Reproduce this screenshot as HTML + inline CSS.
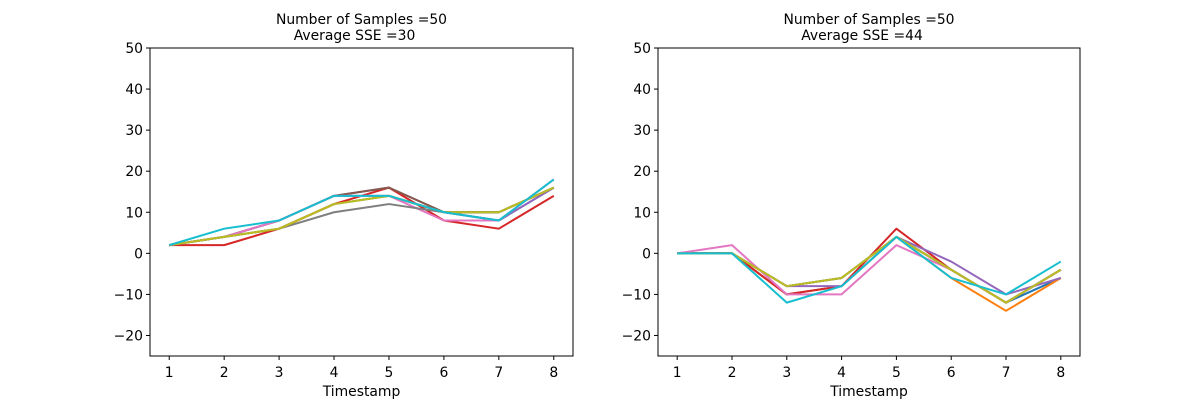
<!DOCTYPE html>
<html><head><meta charset="utf-8"><style>
body{margin:0;background:#fff;}
svg{display:block;font-family:"DejaVu Sans","Liberation Sans",sans-serif;}
</style></head><body>
<svg id="chart" width="1200" height="400" xmlns="http://www.w3.org/2000/svg"></svg>
<script>
const timestamps=[1,2,3,4,5,6,7,8];
const yTicks=[-20,-10,0,10,20,30,40,50];
const titlesLeft=["Number of Samples =50","Average SSE =30"];
const titlesRight=["Number of Samples =50","Average SSE =44"];
const colors=["#1f77b4","#ff7f0e","#2ca02c","#d62728","#9467bd","#8c564b","#e377c2","#7f7f7f","#bcbd22","#17becf"];
const leftSeries=[
[2,4,8,14,16,10,8,16],
[2,4,6,12,14,10,10,16],
[2,4,6,12,14,10,10,16],
[2,2,6,12,16,8,6,14],
[2,4,8,14,14,10,8,16],
[2,4,8,14,16,10,10,16],
[2,4,8,14,14,8,8,18],
[2,4,6,10,12,10,10,16],
[2,4,6,12,14,10,10,16],
[2,6,8,14,14,10,8,18]];
const rightSeries=[
[0,0,-10,-8,4,-4,-12,-6],
[0,0,-10,-8,4,-6,-14,-6],
[0,0,-8,-6,4,-4,-12,-4],
[0,0,-10,-8,6,-4,-12,-4],
[0,0,-8,-8,4,-2,-10,-6],
[0,0,-8,-6,4,-4,-12,-4],
[0,2,-10,-10,2,-4,-12,-4],
[0,0,-8,-6,4,-4,-12,-4],
[0,0,-8,-6,4,-4,-12,-4],
[0,0,-12,-8,4,-6,-10,-2]];
const NS="http://www.w3.org/2000/svg";
const svg=document.getElementById('chart');
function mk(t,a,p){const e=document.createElementNS(NS,t);for(const k in a)e.setAttribute(k,a[k]);(p||svg).appendChild(e);return e;}
function panel(x0,x1,series,titles,name){
  const y0=48,y1=356;
  const g=mk('g',{});
  
  
  const xs=v=>x0+(v-0.65)/(8.35-0.65)*(x1-x0);
  const ys=v=>y0+(50-v)/75*(y1-y0);
  series.forEach((s,i)=>{
    const pl=mk('polyline',{points:s.map((v,j)=>xs(timestamps[j])+','+ys(v)).join(' '),fill:'none',stroke:colors[i%10],'stroke-width':2,'stroke-linejoin':'round'},g);
    
    
  });
  const fr=mk('rect',{x:x0,y:y0,width:x1-x0,height:y1-y0,fill:'none',stroke:'#000','stroke-width':1},g);
  
  
  timestamps.forEach(t=>{
    const x=xs(t);
    mk('line',{x1:x,x2:x,y1:y1,y2:y1+4,stroke:'#000'},g);
    const tx=mk('text',{x:x,y:y1+21,'font-size':13.9,'text-anchor':'middle'},g);tx.textContent=t;
    
    
  });
  yTicks.forEach(t=>{
    const y=ys(t);
    mk('line',{x1:x0-4,x2:x0,y1:y,y2:y,stroke:'#000'},g);
    const tx=mk('text',{x:x0-7,y:y+5,'font-size':13.9,'text-anchor':'end'},g);tx.textContent=String(t).replace('-','\u2212');
    
    
  });
  const xl=mk('text',{x:(x0+x1)/2,y:396,'font-size':13.9,'text-anchor':'middle'},g);xl.textContent='Timestamp';
  
  
  const offs=[0,-7];
  titles.forEach((t,i)=>{
    const tt=mk('text',{x:(x0+x1)/2+offs[i],y:24+i*16,'font-size':13.9,'text-anchor':'middle'},g);tt.textContent=t;
    
    
  });
}
panel(150,573,leftSeries,titlesLeft,'left-panel');
panel(658,1080,rightSeries,titlesRight,'right-panel');
</script>
</body></html>
